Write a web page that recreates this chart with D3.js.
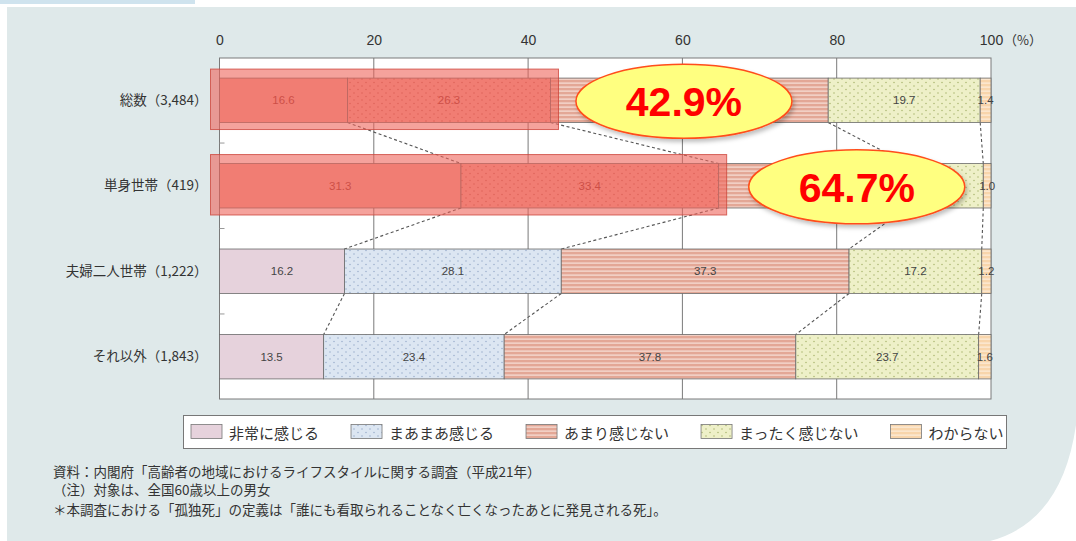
<!DOCTYPE html>
<html><head><meta charset="utf-8">
<script src="https://cdn.jsdelivr.net/npm/d3@7"></script>
<style>body{margin:0;background:#fff;} svg{display:block;}</style>
</head><body><svg id="c" width="1076" height="541"></svg>
<script>
// ---- data ----
const categories = ["総数（3,484）", "単身世帯（419）", "夫婦二人世帯（1,222）", "それ以外（1,843）"];
const seriesNames = ["非常に感じる", "まあまあ感じる", "あまり感じない", "まったく感じない", "わからない"];
const veryMuch = [16.6, 31.3, 16.2, 13.5];
const somewhat = [26.3, 33.4, 28.1, 23.4];
const notMuch  = [36.0, 24.4, 37.3, 37.8];
const notAtAll = [19.7, 9.9, 17.2, 23.7];
const dontKnow = [1.4, 1.0, 1.2, 1.6];
const xTicks = [0, 20, 40, 60, 80, 100];
const highlightRows = [0, 1];
const calloutAt = [60.2, 82.6];
const notes = [
  "資料：内閣府「高齢者の地域におけるライフスタイルに関する調査（平成21年）",
  "（注）対象は、全国60歳以上の男女",
  "＊本調査における「孤独死」の定義は「誰にも看取られることなく亡くなったあとに発見される死」。"
];

// ---- build ----
const svg = d3.select("#c");
const W = 1076, H = 541;
const sans = "'Liberation Sans', Arial, 'Noto Sans CJK JP', sans-serif";
const jp = "'Noto Sans CJK JP', 'Noto Sans', sans-serif";

const table = categories.map((c, i) => ({
  cat: c,
  [seriesNames[0]]: veryMuch[i], [seriesNames[1]]: somewhat[i], [seriesNames[2]]: notMuch[i],
  [seriesNames[3]]: notAtAll[i], [seriesNames[4]]: dontKnow[i]
}));
const stacked = d3.stack().keys(seriesNames)(table);

const x = d3.scaleLinear().domain([0, 100]).range([219.5, 991]);
const y = d3.scaleBand().domain(categories).range([58, 399]).paddingInner(0.48).paddingOuter(0.235);
const RX = 108, RY = 37;

// background
svg.append("rect").attr("width", W).attr("height", H).attr("fill", "#ffffff");
svg.append("rect").attr("x", 7).attr("y", 7).attr("width", W - 7).attr("height", H - 7).attr("fill", "#dfe9ea");
svg.append("rect").attr("x", 0).attr("y", 0).attr("width", 195).attr("height", 4).attr("fill", "#cfe3ee");
svg.append("path").attr("d", "M1076,425 Q1062,522 990,541 L1076,541 Z").attr("fill", "#ffffff");

const defs = svg.append("defs");
function dotPattern(id, bg, dot) {
  const p = defs.append("pattern").attr("id", id).attr("patternUnits", "userSpaceOnUse").attr("width", 8).attr("height", 7);
  p.append("rect").attr("width", 8).attr("height", 7).attr("fill", bg);
  p.append("circle").attr("cx", 2).attr("cy", 2).attr("r", 0.8).attr("fill", dot);
  p.append("circle").attr("cx", 6).attr("cy", 5.5).attr("r", 0.8).attr("fill", dot);
}
function stripePattern(id, bg, line) {
  const p = defs.append("pattern").attr("id", id).attr("patternUnits", "userSpaceOnUse").attr("width", 8).attr("height", 4);
  p.append("rect").attr("width", 8).attr("height", 4).attr("fill", bg);
  p.append("rect").attr("y", 2.5).attr("width", 8).attr("height", 1.2).attr("fill", line);
}
dotPattern("pBlue", "#dce6f2", "#9fb2cf");
stripePattern("pSalmon", "#e3a796", "#f7e0d8");
dotPattern("pYellow", "#eef0c8", "#aebb76");
stripePattern("pOrange", "#f8d5ab", "#fdeedc");
dotPattern("pRed", "#f4a399", "#c8655c");
const shadow = defs.append("filter").attr("id", "sh").attr("x", "-20%").attr("y", "-20%").attr("width", "140%").attr("height", "150%");
shadow.append("feDropShadow").attr("dx", 2).attr("dy", 3).attr("stdDeviation", 2).attr("flood-color", "#000").attr("flood-opacity", 0.25);

const fills = ["#e6d2dc", "url(#pBlue)", "url(#pSalmon)", "url(#pYellow)", "url(#pOrange)"];
const hiFills = ["#f4a399", "url(#pRed)"];

// plot area
svg.append("rect").attr("x", x(0)).attr("y", 58).attr("width", x(100) - x(0)).attr("height", 341).attr("fill", "#ffffff");
svg.append("g").selectAll("line").data(xTicks.filter(d => d > 0 && d < 100)).join("line")
  .attr("x1", d => x(d)).attr("x2", d => x(d)).attr("y1", 58).attr("y2", 399)
  .attr("stroke", "#7a7a7a").attr("stroke-width", 1);
svg.append("rect").attr("x", x(0)).attr("y", 58).attr("width", x(100) - x(0)).attr("height", 341)
  .attr("fill", "none").attr("stroke", "#7a7a7a").attr("stroke-width", 1);

// small ticks on left between rows
const mids = categories.slice(0, -1).map((c, i) => (y(c) + y.bandwidth() + y(categories[i + 1])) / 2);
svg.append("g").selectAll("line").data(mids).join("line")
  .attr("x1", x(0)).attr("x2", x(0) + 5).attr("y1", d => d).attr("y2", d => d)
  .attr("stroke", "#999").attr("stroke-width", 1);

// x axis labels
const xAxis = d3.axisTop(x).tickValues(xTicks).tickSize(0).tickPadding(0).tickFormat(d3.format("d"));
const xg = svg.append("g").attr("transform", "translate(0,45)").call(xAxis);
xg.select(".domain").remove();
xg.selectAll("text").attr("font-family", sans).attr("font-size", 14).attr("fill", "#333").attr("dy", 0);
svg.append("text").attr("x", x(100) + 13).attr("y", 45).attr("font-family", jp).attr("font-size", 13)
  .attr("fill", "#333").text("（%）");

// y axis labels
const yAxis = d3.axisLeft(y).tickSize(0).tickPadding(12);
const yg = svg.append("g").attr("transform", `translate(${x(0)},0)`).call(yAxis);
yg.select(".domain").remove();
yg.selectAll("text").attr("font-family", jp).attr("font-size", 13.5).attr("fill", "#333");

// connectors
const conn = [];
for (let i = 0; i < categories.length - 1; i++) {
  for (let k = 0; k < seriesNames.length - 1; k++) {
    conn.push({
      x1: x(stacked[k][i][1]), y1: y(categories[i]) + y.bandwidth(),
      x2: x(stacked[k][i + 1][1]), y2: y(categories[i + 1])
    });
  }
}
svg.append("g").selectAll("line").data(conn).join("line")
  .attr("x1", d => d.x1).attr("y1", d => d.y1).attr("x2", d => d.x2).attr("y2", d => d.y2)
  .attr("stroke", "#555").attr("stroke-width", 1.1).attr("stroke-dasharray", "3,2.5");

// which labels are hidden behind a callout
function hiddenByCallout(i, cx) {
  const j = highlightRows.indexOf(i);
  if (j < 0) return false;
  return Math.abs(cx - x(calloutAt[j])) < RX - 15;
}

// bars
stacked.forEach((s, k) => {
  const g = svg.append("g");
  g.selectAll("rect").data(s).join("rect")
    .attr("x", d => x(d[0])).attr("y", (d, i) => y(categories[i]))
    .attr("width", d => x(d[1]) - x(d[0])).attr("height", y.bandwidth())
    .attr("fill", (d, i) => (highlightRows.includes(i) && k < 2) ? hiFills[k] : fills[k])
    .attr("stroke", "#6a6a6a").attr("stroke-width", 0.8);
  g.selectAll("text").data(s.filter((d, i) => !hiddenByCallout(i, (x(d[0]) + x(d[1])) / 2))).join("text")
    .attr("x", d => (x(d[0]) + x(d[1])) / 2).attr("y", d => y(d.data.cat) + y.bandwidth() / 2)
    .attr("text-anchor", "middle").attr("dominant-baseline", "central")
    .attr("font-family", sans).attr("font-size", 11.5)
    .attr("fill", d => (highlightRows.includes(categories.indexOf(d.data.cat)) && k < 2) ? "#9a2f2a" : "#444")
    .text(d => d3.format(".1f")(d[1] - d[0]));
});

// highlight overlays
svg.append("g").selectAll("rect").data(highlightRows).join("rect")
  .attr("x", x(0) - 9).attr("y", i => y(categories[i]) - 9)
  .attr("width", i => x(stacked[1][i][1]) - x(0) + 17).attr("height", y.bandwidth() + 16)
  .attr("fill", "rgba(238,100,90,0.6)").attr("stroke", "rgba(205,70,60,0.8)").attr("stroke-width", 1);

// callouts
const cg = svg.append("g").selectAll("g").data(highlightRows).join("g")
  .attr("transform", (i, j) => `translate(${x(calloutAt[j])},${y(categories[i]) + y.bandwidth() / 2 + 1})`);
cg.append("ellipse").attr("rx", RX).attr("ry", RY).attr("fill", "#ffff80")
  .attr("stroke", "#ff4d1a").attr("stroke-width", 1.5).attr("filter", "url(#sh)");
cg.append("text").attr("text-anchor", "middle").attr("dominant-baseline", "central").attr("y", 1)
  .attr("font-family", sans).attr("font-weight", "bold").attr("font-size", 41).attr("fill", "#ff0000")
  .text(i => d3.format(".1f")(veryMuch[i] + somewhat[i]) + "%");

// legend
const lg = svg.append("g");
lg.append("rect").attr("x", 183.5).attr("y", 415.5).attr("width", 823).attr("height", 33)
  .attr("fill", "#ffffff").attr("stroke", "#777").attr("stroke-width", 1);
let lx = 191;
seriesNames.forEach((n, k) => {
  lg.append("rect").attr("x", lx).attr("y", 424.5).attr("width", 31).attr("height", 14)
    .attr("fill", fills[k]).attr("stroke", "#777").attr("stroke-width", 0.8);
  const t = lg.append("text").attr("x", lx + 38).attr("y", 432).attr("dominant-baseline", "central")
    .attr("font-family", jp).attr("font-size", 15).attr("fill", "#333").text(n);
  lx += 38 + t.node().getComputedTextLength() + 32;
});

// notes
const ny = [471, 489, 509];
const nx = [53, 53, 53];
svg.append("g").selectAll("text").data(notes).join("text")
  .attr("x", (d, i) => nx[i]).attr("y", (d, i) => ny[i]).attr("dominant-baseline", "central")
  .attr("font-family", jp).attr("font-size", 13.5).attr("fill", "#333").text(d => d);
</script>
</body></html>
